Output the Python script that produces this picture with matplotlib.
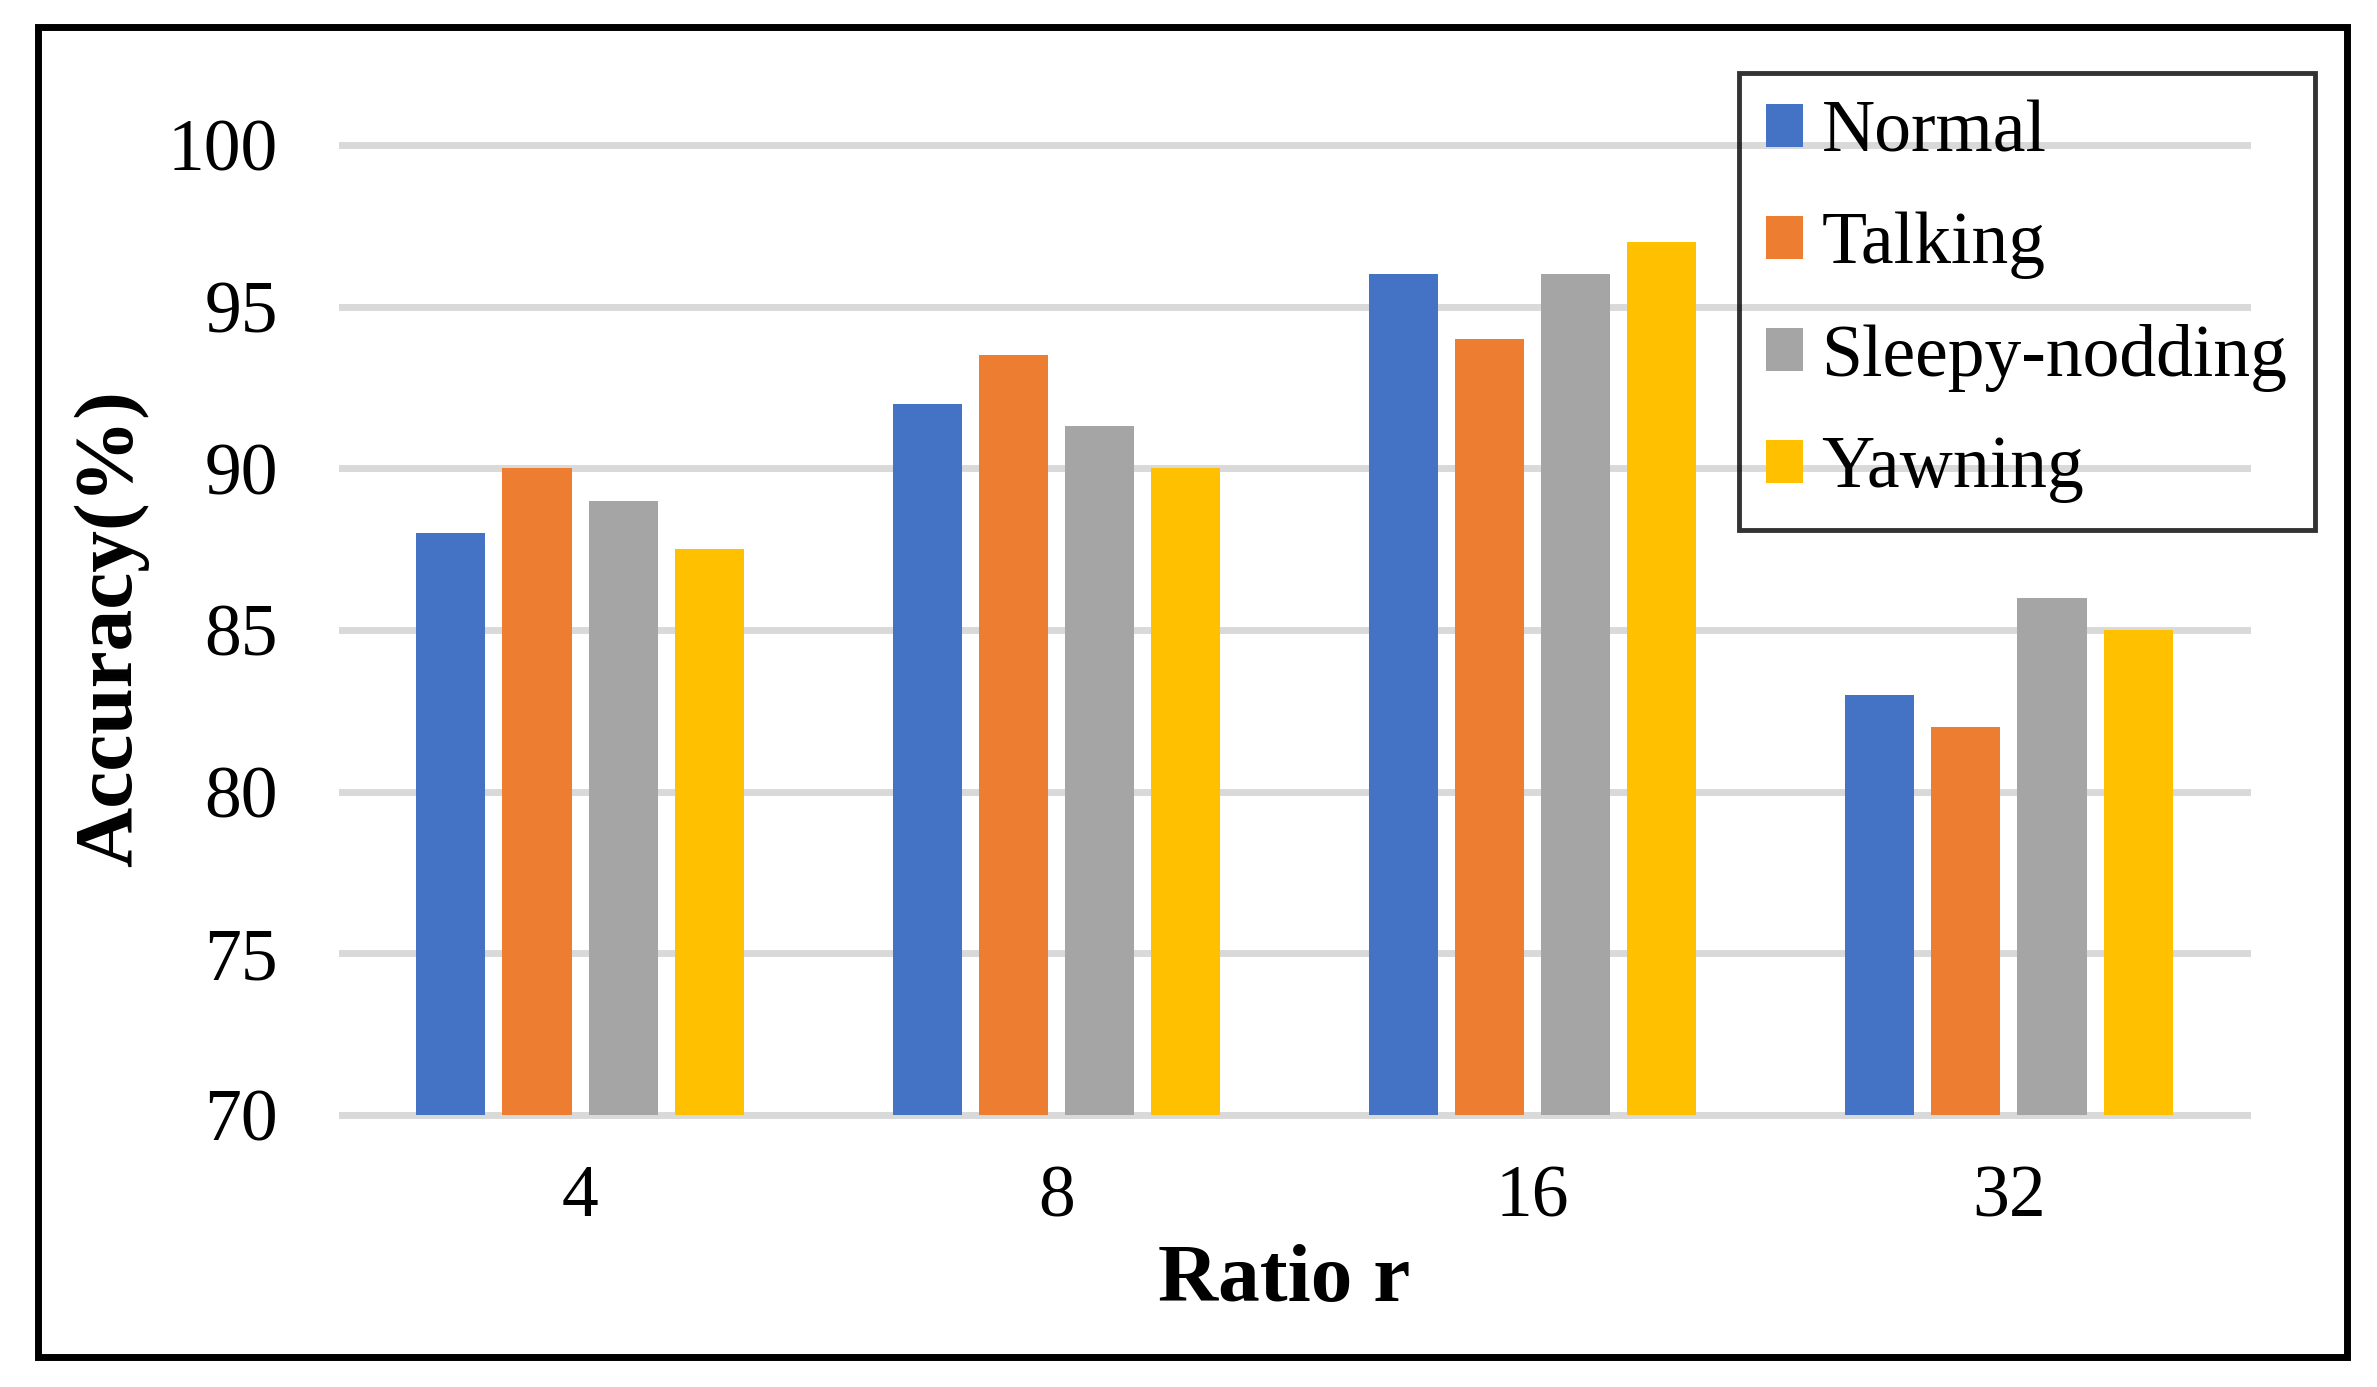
import numpy as np
import matplotlib
matplotlib.use("Agg")
import matplotlib.pyplot as plt
from matplotlib.patches import Rectangle

plt.rcParams['font.family'] = ['Liberation Serif', 'DejaVu Serif']

# data
ratios = ['4', '8', '16', '32']
normal = [88.0, 92.0, 96.0, 83.0]
talking = [90.0, 93.5, 94.0, 82.0]
sleepy = [89.0, 91.3, 96.0, 86.0]
yawning = [87.5, 90.0, 97.0, 85.0]
series_names = ['Normal', 'Talking', 'Sleepy-nodding', 'Yawning']
colors = ['#4472C4', '#ED7D31', '#A5A5A5', '#FFC000']
yticks = [70, 75, 80, 85, 90, 95, 100]

W, H = 2377, 1387
fig = plt.figure(figsize=(W / 100, H / 100), dpi=100)
# plot area in pixels: x 342..2247, y 145..1115
ax = fig.add_axes([342 / W, 1 - 1115 / H, (2247 - 342) / W, (1115 - 145) / H])

x = np.arange(len(ratios))
bw = 0.145
step = 0.181
all_series = [normal, talking, sleepy, yawning]
for i, vals in enumerate(all_series):
    ax.bar(x + (i - 1.5) * step, vals, width=bw, color=colors[i],
           label=series_names[i], zorder=3)

ax.set_xlim(-0.5, len(ratios) - 0.5)
ax.set_ylim(70, 100)
ax.set_yticks(yticks)
ax.set_xticks(x)
ax.set_xticklabels(ratios)
ax.grid(axis='y', color='#D9D9D9', linewidth=5, zorder=0)
ax.set_axisbelow(True)
for gl in ax.yaxis.get_gridlines():
    gl.set_clip_on(False)
for s in ax.spines.values():
    s.set_visible(False)
ax.tick_params(axis='y', length=0, pad=46, labelsize=53)
ax.tick_params(axis='x', length=0, pad=36, labelsize=53)

fig.text(111 / W, 1 - 629 / H, 'Accuracy(%)', rotation=90, ha='center',
         va='center', fontsize=60, fontweight='bold')
fig.text(1284 / W, 1 - 1281 / H, 'Ratio r', ha='center', va='center',
         fontsize=60, fontweight='bold')

leg = ax.legend(loc='upper left', bbox_to_anchor=(1739 / W, 1 - 73 / H),
                bbox_transform=fig.transFigure, fontsize=53, frameon=True,
                fancybox=False, borderaxespad=0, borderpad=0.37,
                handlelength=0.5, handleheight=0.52, handletextpad=0.25,
                labelspacing=0.6)
frame = leg.get_frame()
frame.set_facecolor('none')
frame.set_edgecolor('black')
frame.set_linewidth(3.5)

# outer chart border
fig.add_artist(Rectangle((38.5 / W, 1 - 1356.5 / H), (2346.5 - 38.5) / W,
                         (1356.5 - 27) / H, transform=fig.transFigure,
                         fill=False, edgecolor='black', linewidth=5))

fig.savefig('out.png', dpi=100)
